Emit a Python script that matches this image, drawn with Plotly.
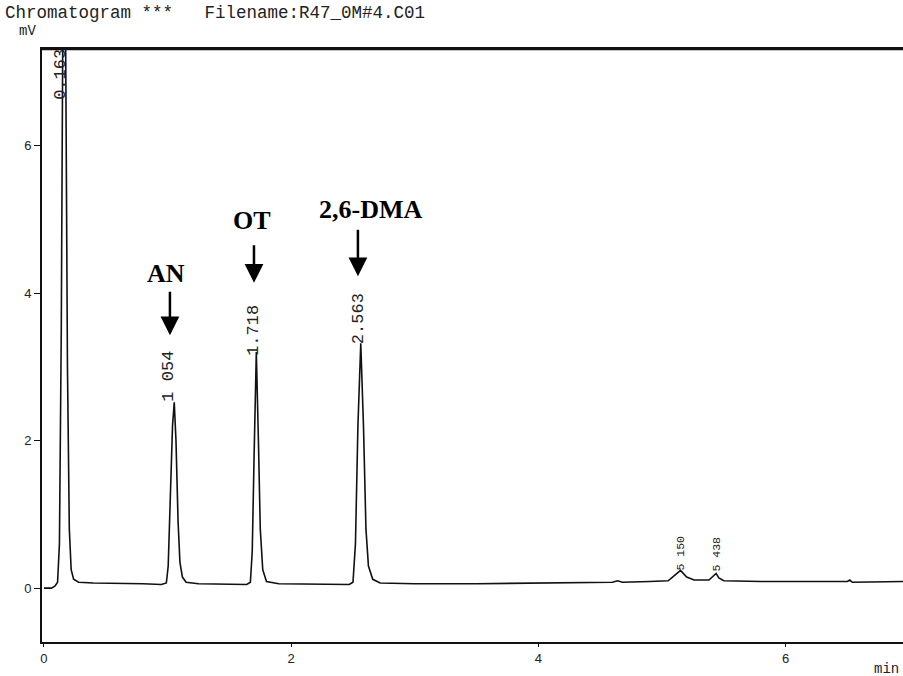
import plotly.graph_objects as go

# Chromatogram trace (time in min, signal in mV)
times = [0.00, 0.06, 0.09, 0.11, 0.125, 0.14, 0.152, 0.163, 0.175, 0.19, 0.205, 0.22, 0.24, 0.28,
         0.40, 0.60, 0.80, 0.95, 0.99, 1.005, 1.02, 1.04, 1.054, 1.068, 1.085, 1.10, 1.12, 1.15,
         1.25, 1.45, 1.64, 1.67, 1.685, 1.70, 1.718, 1.735, 1.75, 1.77, 1.80, 1.90, 2.20, 2.47,
         2.50, 2.52, 2.54, 2.563, 2.585, 2.605, 2.625, 2.66, 2.72, 3.00, 3.50, 4.00, 4.40, 4.60,
         4.64, 4.68, 4.90, 5.05, 5.10, 5.15, 5.20, 5.26, 5.38, 5.41, 5.438, 5.46, 5.50, 5.80,
         6.20, 6.50, 6.52, 6.54, 6.95]
signal = [0.00, 0.00, 0.03, 0.08, 0.6, 3.5, 7.5, 9.5, 7.5, 3.0, 0.8, 0.25, 0.12, 0.08,
          0.07, 0.07, 0.06, 0.05, 0.07, 0.3, 1.2, 2.2, 2.52, 2.0, 0.9, 0.35, 0.15, 0.08,
          0.06, 0.05, 0.05, 0.08, 0.5, 1.8, 3.2, 2.0, 0.8, 0.25, 0.09, 0.06, 0.05, 0.05,
          0.08, 0.6, 2.2, 3.32, 2.2, 0.8, 0.3, 0.12, 0.07, 0.06, 0.06, 0.07, 0.07, 0.08,
          0.10, 0.08, 0.09, 0.10, 0.17, 0.24, 0.15, 0.11, 0.11, 0.15, 0.20, 0.14, 0.10, 0.09,
          0.09, 0.09, 0.11, 0.08, 0.09]

# Retention-time labels printed by the integrator
rt_labels = ["0.163", "1 054", "1.718", "2.563", "5 150", "5 438"]
rt_x = [0.138, 1.011, 1.69, 2.54, 5.146, 5.437]
rt_y = [6.96, 2.88, 3.50, 3.66, 0.47, 0.47]
rt_size = [17, 17, 17, 17, 11.5, 11.5]

# Compound labels with arrows
cmp_names = ["AN", "OT", "2,6-DMA"]
cmp_text_x = [0.99, 1.68, 2.64]
cmp_text_y = [4.26, 4.98, 5.14]
arrow_x = [1.019, 1.699, 2.540]
arrow_tip_y = [3.43, 4.14, 4.23]
arrow_len = [45, 39, 48]

x_ticks = [0, 2, 4, 6]
y_ticks = [0, 2, 4, 6]

W, H = 903, 676
ML, MR, MT, MB = 42, 0, 49, 34
PW, PH = W - ML - MR, H - MT - MB


def px_x(px):
    return (px - ML) / PW


def px_y(py):
    return 1 - (py - MT) / PH


fig = go.Figure()
fig.add_trace(go.Scatter(x=times, y=signal, mode="lines",
                         line=dict(color="#111111", width=1.6), showlegend=False,
                         hoverinfo="skip"))

annotations = []
for t, x, y, s in zip(rt_labels, rt_x, rt_y, rt_size):
    annotations.append(dict(x=x, y=y, xref="x", yref="y", text=t, showarrow=False,
                            textangle=-90, font=dict(family="Liberation Mono", size=s, color="#222"),
                            xanchor="center", yanchor="middle"))
for n, tx, ty in zip(cmp_names, cmp_text_x, cmp_text_y):
    annotations.append(dict(x=tx, y=ty, xref="x", yref="y", text="<b>%s</b>" % n, showarrow=False,
                            font=dict(family="Liberation Serif", size=26, color="black"),
                            xanchor="center", yanchor="middle"))
for ax_, tip, ln in zip(arrow_x, arrow_tip_y, arrow_len):
    annotations.append(dict(x=ax_, y=tip, xref="x", yref="y", text="", showarrow=True,
                            ax=0, ay=-ln, arrowhead=2, arrowsize=1.5, arrowwidth=2.5,
                            arrowcolor="black"))
annotations.append(dict(x=px_x(3), y=px_y(13), xref="paper", yref="paper", xanchor="left",
                        yanchor="middle", text="Chromatogram ***   Filename:R47_0M#4.C01",
                        showarrow=False,
                        font=dict(family="Liberation Mono", size=17.5, color="#222")))
annotations.append(dict(x=px_x(17), y=px_y(31), xref="paper", yref="paper", xanchor="left",
                        yanchor="middle", text="mV", showarrow=False,
                        font=dict(family="Liberation Mono", size=14, color="#222")))
annotations.append(dict(x=px_x(872), y=px_y(669), xref="paper", yref="paper", xanchor="left",
                        yanchor="middle", text="min", showarrow=False,
                        font=dict(family="Liberation Mono", size=14, color="#222")))

fig.update_layout(
    width=W, height=H, autosize=False,
    margin=dict(l=ML, r=MR, t=MT, b=MB),
    paper_bgcolor="white", plot_bgcolor="white",
    annotations=annotations,
    xaxis=dict(range=[-0.016, 6.95], tickvals=x_ticks, ticktext=[str(v) for v in x_ticks],
               showgrid=False, zeroline=False, showline=True, linecolor="#111", linewidth=2,
               mirror=True, ticks="outside", ticklen=3, tickcolor="#111", automargin=False,
               tickfont=dict(family="Liberation Sans", size=13, color="#222")),
    yaxis=dict(range=[-0.73, 7.31], tickvals=y_ticks, ticktext=[str(v) for v in y_ticks],
               showgrid=False, zeroline=False, showline=True, linecolor="#111", linewidth=2,
               mirror=False, ticks="outside", ticklen=6, tickcolor="#111", automargin=False,
               tickfont=dict(family="Liberation Sans", size=13, color="#222")),
)
fig.add_shape(type="line", xref="paper", yref="paper", x0=0, x1=1, y0=1, y1=1,
              line=dict(color="#111", width=2.5))

post = ("document.body.style.margin='0px';"
        "var gd=document.getElementById('{plot_id}');"
        "Plotly.relayout(gd,{width:903,height:676});")
fig.write_html("out.html", config={"responsive": False, "displayModeBar": False},
               post_script=post)
